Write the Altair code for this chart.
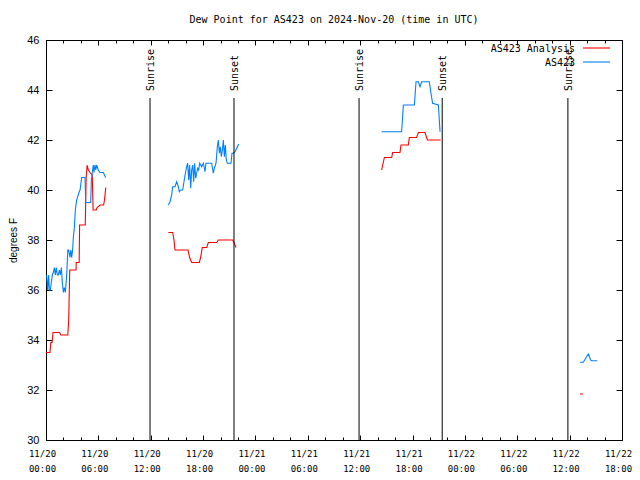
import altair as alt
import pandas as pd

TITLE = "Dew Point for AS423 on 2024-Nov-20 (time in UTC)"
SERIES = ["AS423 Analysis", "AS423"]
COLORS = ["#ff0000", "#0080ff"]

# time axis: hours since 2024-11-20 00:00 UTC
X_MIN, X_MAX = 0, 66
Y_MIN, Y_MAX = 30, 46
major_hours = list(range(0, 67, 6))
minor_hours = list(range(0, 67, 2))
y_ticks = list(range(30, 47, 2))

# AS423 Analysis (red) segments
ana_h1 = [0.0, 0.45, 0.55, 0.7, 0.8, 1.55, 1.7, 2.5, 2.6, 2.72, 3.44, 3.46, 3.8, 3.85,
          4.5, 4.6, 4.72, 4.85, 5.05, 5.3, 5.4, 5.75, 5.85, 6.2, 6.6, 6.7, 6.85]
ana_v1 = [33.5, 33.5, 33.9, 33.9, 34.3, 34.3, 34.2, 34.2, 34.8, 36.8, 36.8, 37.1, 37.1, 38.6,
          38.6, 40.5, 41.0, 40.8, 40.7, 40.6, 39.2, 39.2, 39.3, 39.4, 39.4, 39.6, 40.1]
ana_h2 = [14.02, 14.51, 14.67, 14.78, 16.27, 16.46, 16.69, 17.57, 17.72, 17.91, 18.41, 18.6,
          19.56, 19.75, 20.51, 20.7, 21.39, 21.54, 21.77]
ana_v2 = [38.3, 38.3, 38.0, 37.6, 37.6, 37.3, 37.1, 37.1, 37.3, 37.7, 37.7, 37.9,
          37.9, 38.0, 38.0, 38.0, 38.0, 37.9, 37.7]
ana_h3 = [38.46, 38.77, 39.61, 39.72, 40.56, 40.68, 41.52, 41.63, 42.47, 42.67, 43.43, 43.7, 45.22]
ana_v3 = [40.8, 41.3, 41.3, 41.5, 41.5, 41.8, 41.8, 42.1, 42.1, 42.3, 42.3, 42.0, 42.0]
ana_h4 = [61.19, 61.5]
ana_v4 = [31.84, 31.84]

# AS423 observations (blue) segments
obs_h1 = [0.08, 0.19, 0.31, 0.38, 0.5, 0.61, 0.73, 0.84, 0.96, 1.07, 1.18, 1.3, 1.41, 1.53,
          1.64, 1.76, 1.87, 1.99, 2.1, 2.22, 2.37, 2.5, 2.6, 2.75, 2.85, 2.94, 3.05, 3.13,
          3.25, 3.36, 3.51, 3.78, 3.9, 4.09, 4.47, 4.55, 4.66, 5.12, 5.2, 5.42, 5.5, 5.61,
          5.7, 5.8, 5.99, 6.19, 6.57, 6.84]
obs_v1 = [36.6, 36.0, 36.6, 36.0, 36.0, 36.3, 36.6, 36.7, 36.9, 36.6, 36.9, 36.6, 36.6, 36.8,
          36.6, 36.9, 36.3, 35.9, 36.1, 35.9, 36.6, 37.6, 37.6, 37.3, 37.6, 37.3, 37.6, 38.1,
          38.5, 39.2, 39.6, 39.9, 40.0, 40.5, 40.5, 39.5, 39.5, 39.5, 40.4, 41.0, 40.7, 41.0,
          40.8, 41.0, 40.8, 40.7, 40.7, 40.5]
obs_h2 = [14.02, 14.21, 14.4, 14.51, 14.78, 14.97, 15.16, 15.28, 15.43, 15.66, 15.81, 15.97,
          16.12, 16.23, 16.35, 16.46, 16.58, 16.69, 16.81, 16.92, 17.03, 17.15, 17.26, 17.38,
          17.49, 17.61, 17.84, 18.03, 18.22, 18.33, 18.79, 18.98, 19.17, 19.29, 19.48, 19.63,
          19.75, 19.86, 19.98, 20.09, 20.21, 20.32, 20.44, 20.55, 20.66, 20.78, 21.2, 21.31,
          21.46, 21.66, 21.85, 22.08]
obs_v2 = [39.4, 39.53, 39.8, 40.13, 40.13, 40.33, 40.13, 39.93, 40.0, 40.0, 40.33, 40.67,
          40.93, 41.07, 40.4, 41.0, 40.07, 40.8, 41.0, 40.33, 41.07, 40.47, 40.67, 40.87,
          40.8, 41.07, 40.93, 41.07, 40.73, 41.07, 41.07, 41.07, 40.67, 40.87, 41.07, 41.73,
          42.0, 41.47, 41.73, 41.33, 41.6, 42.0, 41.33, 41.8, 41.2, 41.07, 41.07, 41.47,
          41.47, 41.53, 41.67, 41.84]
obs_h3 = [38.46, 40.75, 40.95, 42.21, 42.4, 42.67, 42.85, 43.05, 43.92, 44.11, 44.3, 44.96, 45.15]
obs_v3 = [42.33, 42.33, 43.4, 43.4, 44.33, 44.33, 44.13, 44.33, 44.33, 43.87, 43.47, 43.4, 42.33]
obs_h4 = [61.19, 61.57, 61.8, 62.15, 62.4, 62.53, 63.17]
obs_v4 = [33.11, 33.11, 33.25, 33.44, 33.2, 33.17, 33.17]

event_names = ["Sunrise", "Sunset", "Sunrise", "Sunset", "Sunrise"]
event_hours = [11.92, 21.54, 35.87, 45.40, 59.80]

MONO = "DejaVu Sans Mono"
SANS = "Liberation Sans"

rows = []
segs = {
    "AS423 Analysis": [(ana_h1, ana_v1), (ana_h2, ana_v2), (ana_h3, ana_v3), (ana_h4, ana_v4)],
    "AS423": [(obs_h1, obs_v1), (obs_h2, obs_v2), (obs_h3, obs_v3), (obs_h4, obs_v4)],
}
for series, parts in segs.items():
    for i, (hs, vs) in enumerate(parts):
        for h, v in zip(hs, vs):
            rows.append({"series": series, "segment": f"{series}-{i}", "hours": h, "dew": v})
df = pd.DataFrame(rows)
events = pd.DataFrame({"name": event_names, "hours": event_hours})
major_df = pd.DataFrame({"h": major_hours})
minor_df = pd.DataFrame({"h": minor_hours})
ytick_df = pd.DataFrame({"v": y_ticks})

xscale = alt.Scale(domain=[X_MIN, X_MAX], nice=False, zero=False)
yscale = alt.Scale(domain=[Y_MIN, Y_MAX], nice=False, zero=False)

label_expr = ("['11/' + (20 + floor(datum.value / 24)), "
              "((datum.value % 24) < 10 ? '0' : '') + (datum.value % 24) + ':00']")

lines = alt.Chart(df).mark_line(strokeWidth=1.1, interpolate="linear").encode(
    x=alt.X("hours:Q", scale=xscale, axis=alt.Axis(
        orient="bottom", values=major_hours, labelExpr=label_expr, tickSize=5, offset=-5,
        domain=False, grid=False, labelPadding=9, labelFont=MONO, labelFontSize=9,
        labelLineHeight=15, labelOffset=-4, title=None, labelFlush=False,
        labelOverlap=False)),
    y=alt.Y("dew:Q", scale=yscale, axis=alt.Axis(
        orient="left", values=y_ticks, tickSize=6, offset=-6, domain=False, grid=False,
        title="degrees F", titleFont=SANS, titleFontSize=10, titleFontWeight="normal",
        titlePadding=8, labelFont=SANS, labelFontSize=11, labelPadding=7,
        labelOverlap=False)),
    color=alt.Color("series:N", scale=alt.Scale(domain=SERIES, range=COLORS), legend=None),
    detail="segment:N",
    order="hours:Q",
)

top_major = alt.Chart(major_df).mark_point(opacity=0).encode(
    x=alt.X("h:Q", scale=xscale, axis=alt.Axis(
        orient="top", values=major_hours, labels=False, tickSize=5, offset=-5,
        domain=False, grid=False, title=None)))
right_ticks = alt.Chart(ytick_df).mark_point(opacity=0).encode(
    y=alt.Y("v:Q", scale=yscale, axis=alt.Axis(
        orient="right", values=y_ticks, labels=False, tickSize=6, offset=-6,
        domain=False, grid=False, title=None)))
bottom_minor = alt.Chart(minor_df).mark_point(opacity=0).encode(
    x=alt.X("h:Q", scale=xscale, axis=alt.Axis(
        orient="bottom", values=minor_hours, labels=False, tickSize=3, offset=-3,
        domain=False, grid=False, title=None)))
top_minor = alt.Chart(minor_df).mark_point(opacity=0).encode(
    x=alt.X("h:Q", scale=xscale, axis=alt.Axis(
        orient="top", values=minor_hours, labels=False, tickSize=3, offset=-3,
        domain=False, grid=False, title=None)))

rules = alt.Chart(events).mark_rule(color="black", strokeWidth=1).encode(
    x=alt.X("hours:Q", scale=xscale, axis=None),
    y=alt.value(58), y2=alt.value(400))
texts = alt.Chart(events).mark_text(
    angle=270, align="left", baseline="middle", font=MONO, fontSize=10, color="black", dy=1
).encode(x=alt.X("hours:Q", scale=xscale, axis=None), y=alt.value(51), text="name:N")

# gnuplot-style key (label then line sample) in the top-right corner
key_layers = []
for i, (name, col) in enumerate(zip(SERIES, COLORS)):
    kd = pd.DataFrame({"name": [name]})
    key_layers.append(alt.Chart(kd).mark_text(
        align="right", baseline="middle", font=MONO, fontSize=10, color="black"
    ).encode(text="name:N", x=alt.value(529), y=alt.value(9 + 14 * i)))
    key_layers.append(alt.Chart(kd).mark_rule(color=col, strokeWidth=1.1).encode(
        x=alt.value(537), x2=alt.value(564), y=alt.value(8 + 14 * i)))

chart = alt.layer(lines, top_major, right_ticks, bottom_minor, top_minor, rules, texts,
                  *key_layers).properties(
    width=576, height=400,
    title=alt.TitleParams(text=TITLE, font=MONO, fontSize=10, fontWeight="normal",
                          anchor="middle", offset=9, color="black"),
    autosize=alt.AutoSizeParams(type="none"),
    padding={"left": 38, "top": 32, "right": 10, "bottom": 32},
    background="white",
).configure_view(stroke="black", strokeWidth=1).configure_axis(
    labelColor="black", tickColor="black", tickWidth=1)

chart.save("out.html", embed_options={"renderer": "svg", "actions": False})
